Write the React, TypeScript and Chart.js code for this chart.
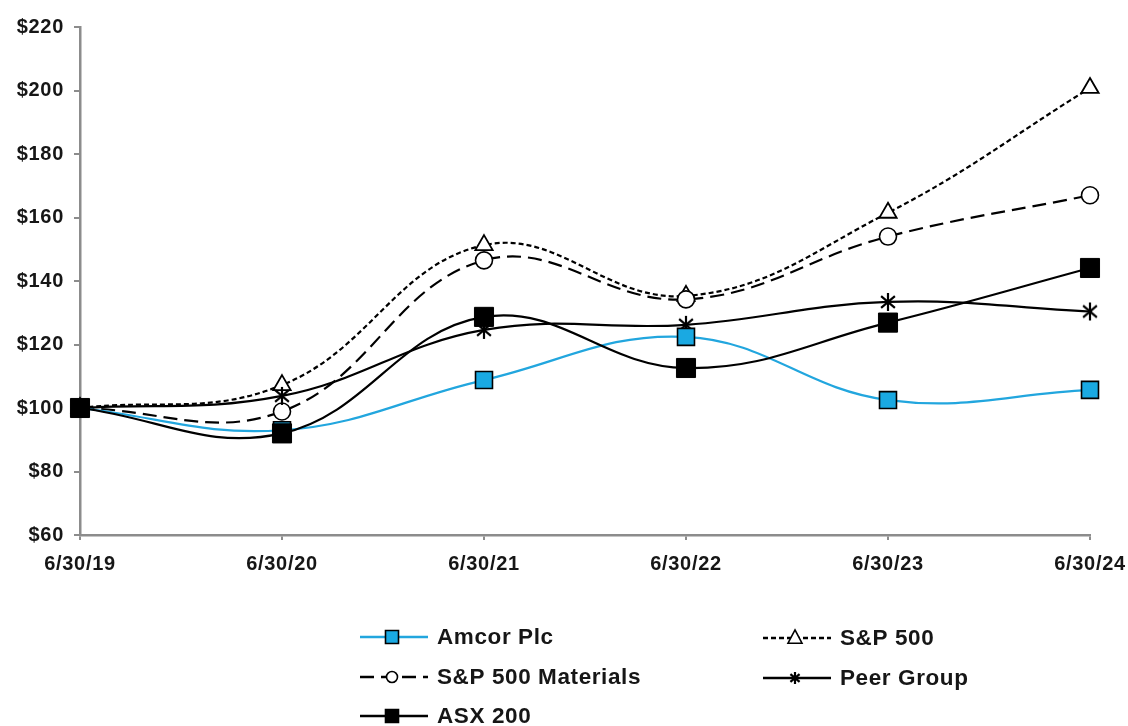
import React, { useEffect, useRef } from 'react';
import { Chart, registerables } from 'chart.js';

Chart.register(...registerables);

// ---- data ----
const categories = ['6/30/19', '6/30/20', '6/30/21', '6/30/22', '6/30/23', '6/30/24'];
const amcorPlc = [100, 93, 108.8, 122.4, 102.5, 105.7];
const sp500 = [100, 107.2, 151.3, 135.3, 161.5, 200.8];
const sp500Materials = [100, 98.9, 146.5, 134.2, 154.0, 167.0];
const peerGroup = [100, 103.8, 124.6, 126.2, 133.4, 130.4];
const asx200 = [100, 92.0, 128.7, 112.6, 126.9, 144.1];
const seriesNames = ['Amcor Plc', 'S&P 500', 'S&P 500 Materials', 'Peer Group', 'ASX 200'];
const yMin = 60;
const yMax = 220;
const yStep = 20;

const FONT = "'Liberation Sans', Arial, sans-serif";
const TEXT = '#161616';
const AXIS = '#8c8c8c';
const BLUE_LINE = '#22a6de';
const BLUE_FILL = '#1aa9e2';

function makeStar(size: number, lw: number): HTMLCanvasElement {
  const c = document.createElement('canvas');
  c.width = size;
  c.height = size;
  const g = c.getContext('2d')!;
  const m = size / 2;
  const r = size / 2 - 1;
  g.strokeStyle = '#000';
  g.lineWidth = lw;
  g.lineCap = 'butt';
  const angles = [90, 40, 140];
  g.beginPath();
  for (const a of angles) {
    const rad = (a * Math.PI) / 180;
    g.moveTo(m - Math.cos(rad) * r, m - Math.sin(rad) * r);
    g.lineTo(m + Math.cos(rad) * r, m + Math.sin(rad) * r);
  }
  g.stroke();
  return c;
}

type Marker = 'rect' | 'circle' | 'triangle' | 'star';

function drawMarker(ctx: CanvasRenderingContext2D, kind: Marker, x: number, y: number, s: number, fill: string, star?: HTMLCanvasElement) {
  ctx.save();
  ctx.setLineDash([]);
  ctx.lineWidth = 1.6;
  ctx.strokeStyle = '#000';
  ctx.fillStyle = fill;
  ctx.beginPath();
  if (kind === 'rect') {
    ctx.rect(x - s, y - s, 2 * s, 2 * s);
    ctx.fill();
    ctx.stroke();
  } else if (kind === 'circle') {
    ctx.arc(x, y, s, 0, Math.PI * 2);
    ctx.fill();
    ctx.stroke();
  } else if (kind === 'triangle') {
    ctx.moveTo(x, y - s * 1.15);
    ctx.lineTo(x + s, y + s * 0.75);
    ctx.lineTo(x - s, y + s * 0.75);
    ctx.closePath();
    ctx.fill();
    ctx.stroke();
  } else if (kind === 'star' && star) {
    ctx.drawImage(star, x - star.width / 2, y - star.height / 2);
  }
  ctx.restore();
}

export default function App() {
  const ref = useRef<HTMLCanvasElement | null>(null);

  useEffect(() => {
    if (!ref.current) return;
    const starBig = makeStar(20, 2.2);
    const starSmall = makeStar(14, 2.2);

    const legendStyles = [
      { color: BLUE_LINE, dash: [] as number[], marker: 'rect' as Marker, fill: BLUE_FILL, x: 360, y: 637, size: 6.5 },
      { color: '#000', dash: [5, 3], marker: 'triangle' as Marker, fill: '#fff', x: 763, y: 638, size: 7 },
      { color: '#000', dash: [14, 7], marker: 'circle' as Marker, fill: '#fff', x: 360, y: 677, size: 5.5 },
      { color: '#000', dash: [] as number[], marker: 'star' as Marker, fill: '#000', x: 763, y: 678, size: 6 },
      { color: '#000', dash: [] as number[], marker: 'rect' as Marker, fill: '#000', x: 360, y: 716, size: 6.5 },
    ];

    const spacingPlugin = {
      id: 'letterSpacing',
      beforeLayout(chart: Chart) {
        (chart.ctx as any).letterSpacing = '0.7px';
      },
      beforeDraw(chart: Chart) {
        (chart.ctx as any).letterSpacing = '0.7px';
      },
    };

    const legendPlugin = {
      id: 'customLegend',
      afterDraw(chart: Chart) {
        const ctx = chart.ctx;
        legendStyles.forEach((st, i) => {
          ctx.save();
          ctx.strokeStyle = st.color;
          ctx.lineWidth = 2.4;
          ctx.setLineDash(st.dash);
          ctx.beginPath();
          ctx.moveTo(st.x, st.y);
          ctx.lineTo(st.x + 68, st.y);
          ctx.stroke();
          ctx.restore();
          drawMarker(ctx, st.marker, st.x + 32, st.y, st.size, st.fill, starSmall);
          ctx.save();
          (ctx as any).letterSpacing = '0.6px';
          ctx.fillStyle = TEXT;
          ctx.font = `bold 22.5px ${FONT}`;
          ctx.textBaseline = 'middle';
          ctx.textAlign = 'left';
          ctx.fillText(seriesNames[i], st.x + 77, st.y + 1);
          ctx.restore();
        });
      },
    };

    const tickFont = { family: FONT, size: 20, weight: 'bold' as const };

    const chart = new Chart(ref.current, {
      type: 'line',
      data: {
        labels: categories,
        datasets: [
          {
            label: seriesNames[0],
            data: amcorPlc,
            borderColor: BLUE_LINE,
            borderWidth: 2.2,
            pointStyle: 'rect',
            pointRadius: 12,
            pointBackgroundColor: BLUE_FILL,
            pointBorderColor: '#000',
            pointBorderWidth: 1.6,
            tension: 0.4,
            order: 1,
          },
          {
            label: seriesNames[1],
            data: sp500,
            borderColor: '#000',
            borderWidth: 2.2,
            borderDash: [5, 3],
            pointStyle: 'triangle',
            pointRadius: 10,
            pointBackgroundColor: '#fff',
            pointBorderColor: '#000',
            pointBorderWidth: 1.8,
            tension: 0.4,
            order: 4,
          },
          {
            label: seriesNames[2],
            data: sp500Materials,
            borderColor: '#000',
            borderWidth: 2.2,
            borderDash: [14, 7],
            pointStyle: 'circle',
            pointRadius: 8.5,
            pointBackgroundColor: '#fff',
            pointBorderColor: '#000',
            pointBorderWidth: 1.6,
            tension: 0.4,
            order: 3,
          },
          {
            label: seriesNames[3],
            data: peerGroup,
            borderColor: '#000',
            borderWidth: 2.2,
            pointStyle: starBig as any,
            pointRadius: 10,
            tension: 0.4,
            order: 2,
          },
          {
            label: seriesNames[4],
            data: asx200,
            borderColor: '#000',
            borderWidth: 2.2,
            pointStyle: 'rect',
            pointRadius: 13.5,
            pointBackgroundColor: '#000',
            pointBorderColor: '#000',
            pointBorderWidth: 1,
            tension: 0.4,
            order: 0,
          },
        ],
      },
      options: {
        animation: false,
        responsive: true,
        maintainAspectRatio: false,
        layout: { padding: { top: 27, right: 38, left: 0, bottom: 0 } },
        plugins: {
          legend: { display: false },
          tooltip: { enabled: false },
        },
        scales: {
          x: {
            type: 'category',
            offset: false,
            grid: { display: true, drawOnChartArea: false, drawTicks: true, tickLength: 5, color: AXIS, lineWidth: 2 },
            border: { display: true, color: AXIS, width: 2.5 },
            ticks: { font: tickFont, color: TEXT, padding: 12, maxRotation: 0, autoSkip: false },
            afterFit: (s: any) => {
              s.height = 191;
              s.paddingLeft = 0;
              s.paddingRight = 0;
            },
          },
          y: {
            min: yMin,
            max: yMax,
            grid: { display: true, drawOnChartArea: false, drawTicks: true, tickLength: 6, color: AXIS, lineWidth: 2 },
            border: { display: true, color: AXIS, width: 2.5 },
            ticks: { stepSize: yStep, font: tickFont, color: TEXT, padding: 10, callback: (v: any) => '$' + v },
            afterFit: (s: any) => {
              s.width = 80;
              s.paddingTop = 0;
              s.paddingBottom = 0;
            },
          },
        },
      },
      plugins: [spacingPlugin, legendPlugin],
    });
    return () => chart.destroy();
  }, []);

  return (
    <div style={{ position: 'fixed', left: 0, top: 0, width: 1128, height: 726, background: '#fff' }}>
      <canvas ref={ref} />
    </div>
  );
}
